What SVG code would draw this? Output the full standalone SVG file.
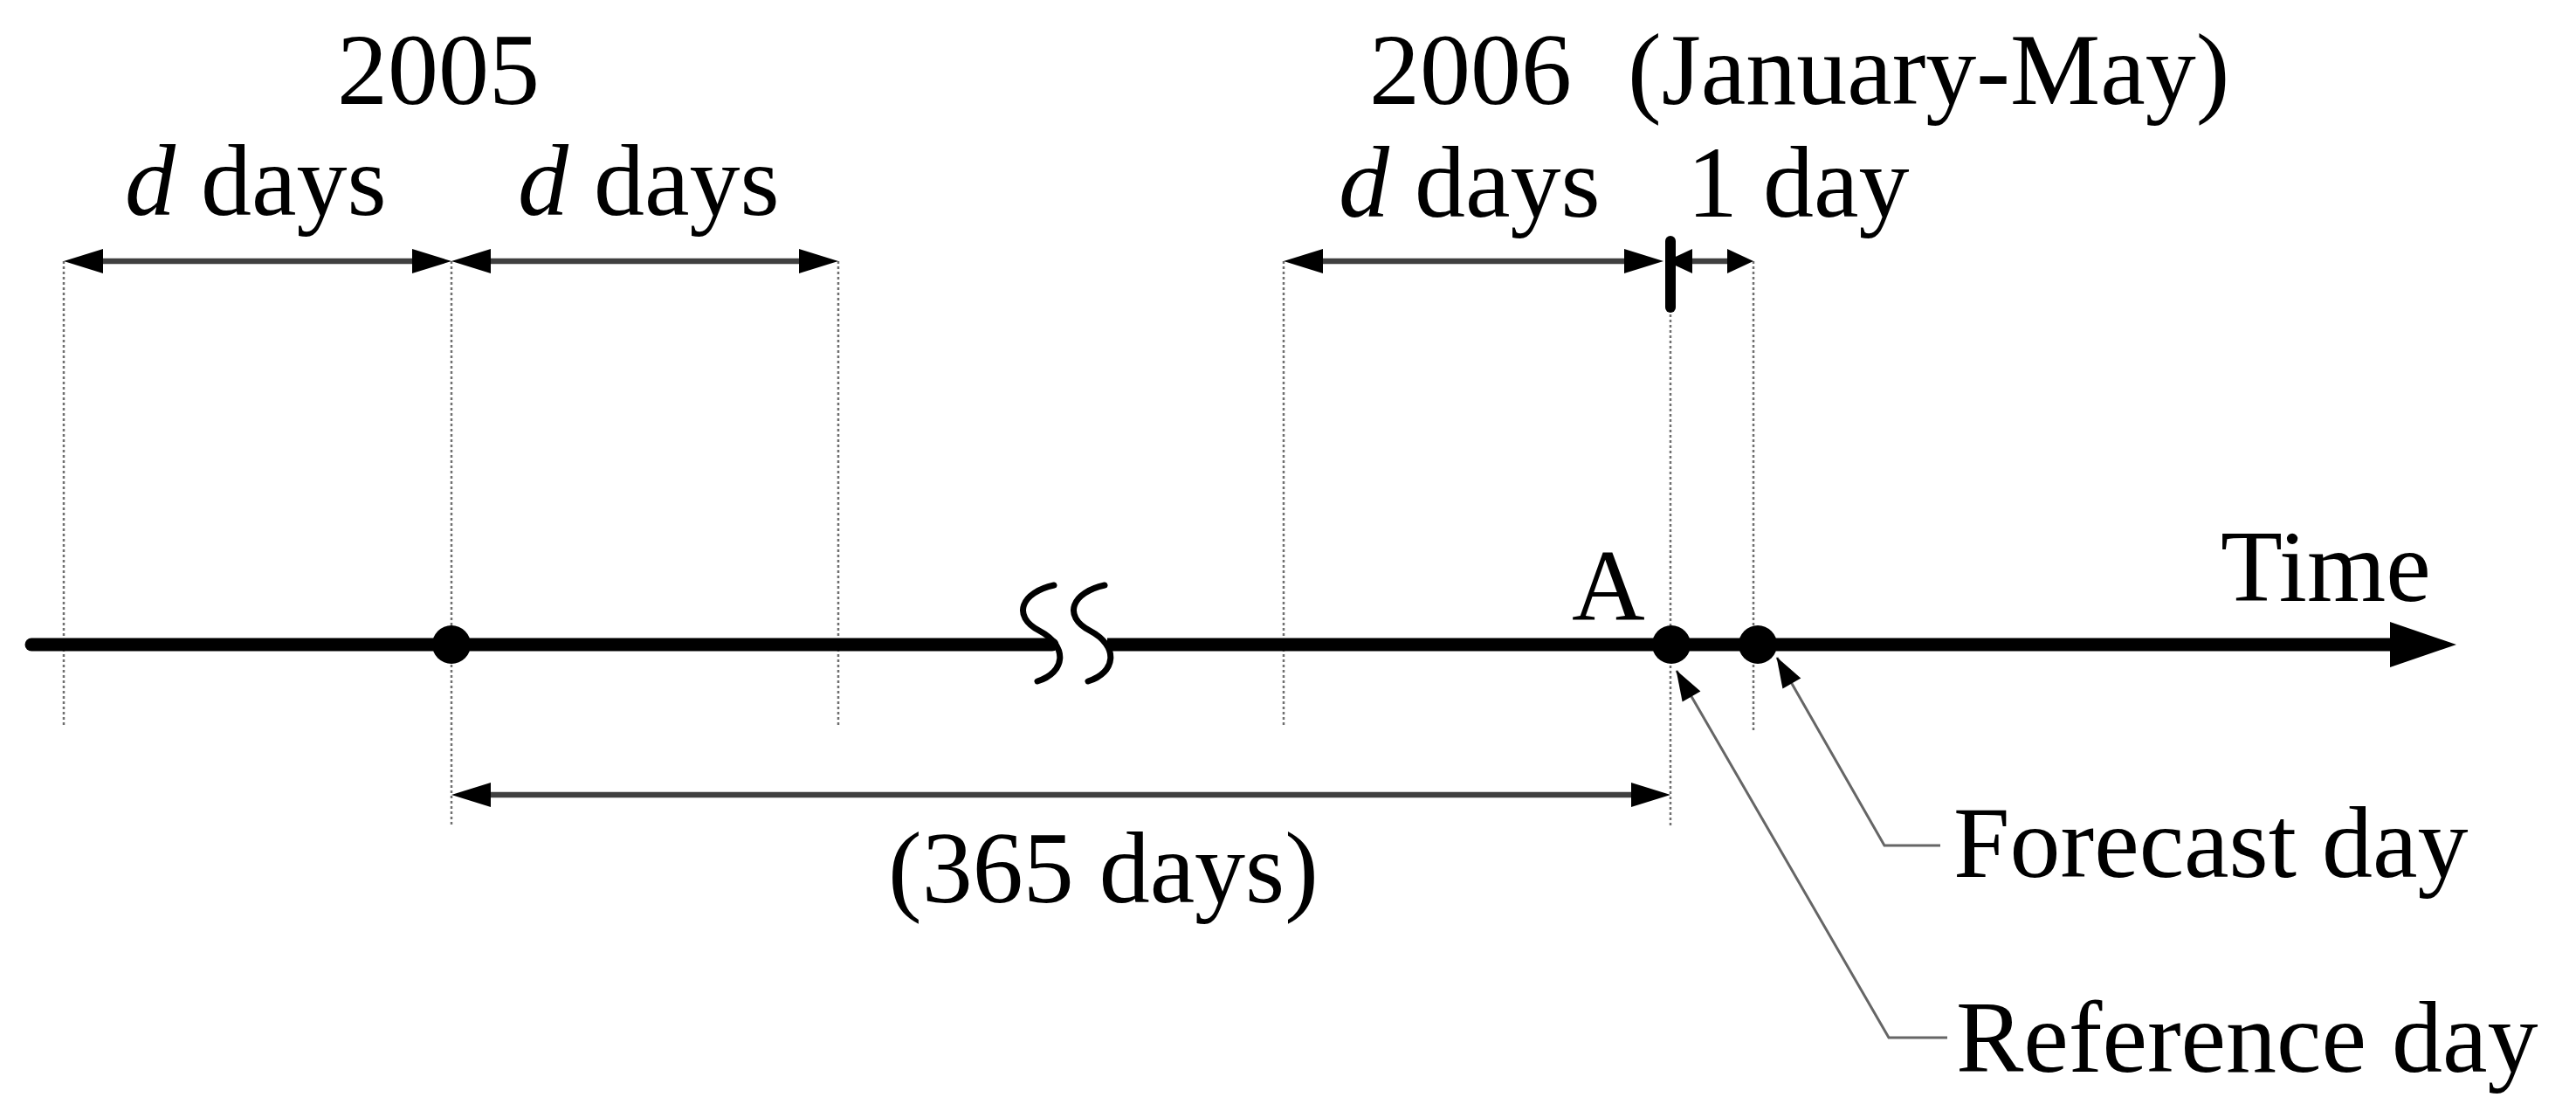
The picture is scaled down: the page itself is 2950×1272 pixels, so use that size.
<svg xmlns="http://www.w3.org/2000/svg" width="2950" height="1272" viewBox="0 0 2950 1272">
<style>
text{font-family:"Liberation Serif","Times New Roman",serif;font-size:116px;fill:#000}
.it{font-style:italic}
.guide{stroke:#707070;stroke-width:2.5;stroke-dasharray:3 3;fill:none}
.dim{stroke:#404040;stroke-width:6.5;fill:none}
.leader{stroke:#666;stroke-width:3;fill:none}
.axis{stroke:#000;stroke-width:15;fill:none}
.brk{stroke:#000;stroke-width:7;fill:none;stroke-linecap:round}
.dot{fill:#000}
</style>
<defs>
<marker id="ah" markerUnits="userSpaceOnUse" viewBox="0 -15 46 30" markerWidth="46" markerHeight="30" refX="25" refY="0" orient="auto-start-reverse" overflow="visible">
<path d="M0,-14 L45,0 L0,14 z" fill="#000"/>
</marker>
<marker id="ahs" markerUnits="userSpaceOnUse" viewBox="0 -15 31 30" markerWidth="31" markerHeight="30" refX="15" refY="0" orient="auto-start-reverse" overflow="visible">
<path d="M0,-14 L30,0 L0,14 z" fill="#000"/>
</marker>
<marker id="ahl" markerUnits="userSpaceOnUse" viewBox="0 -13 36 26" markerWidth="36" markerHeight="26" refX="34" refY="0" orient="auto" overflow="visible">
<path d="M0,-12 L35,0 L0,12 z" fill="#000"/>
</marker>
</defs>

<g id="guides">
<line class="guide" x1="73" y1="299" x2="73" y2="830"/>
<line class="guide" x1="517" y1="299" x2="517" y2="947"/>
<line class="guide" x1="960" y1="299" x2="960" y2="830"/>
<line class="guide" x1="1470" y1="299" x2="1470" y2="830"/>
<line class="guide" x1="1913" y1="300" x2="1913" y2="947"/>
<line class="guide" x1="2008" y1="299" x2="2008" y2="836"/>
</g>

<g id="connectors">
<line class="dim" x1="93" y1="299" x2="497" y2="299" marker-start="url(#ah)" marker-end="url(#ah)"/>
<line class="dim" x1="537" y1="299" x2="940" y2="299" marker-start="url(#ah)" marker-end="url(#ah)"/>
<line class="dim" x1="1490" y1="299" x2="1885" y2="299" marker-start="url(#ah)" marker-end="url(#ah)"/>
<line class="dim" x1="1923" y1="299" x2="1993" y2="299" marker-start="url(#ahs)" marker-end="url(#ahs)"/>
<line class="dim" x1="537" y1="910" x2="1893" y2="910" marker-start="url(#ah)" marker-end="url(#ah)"/>
<polyline class="leader" points="2222,968 2158,968 2035,753" marker-end="url(#ahl)"/>
<polyline class="leader" points="2230,1188 2163,1188 1920,768" marker-end="url(#ahl)"/>
</g>

<g id="timeline">
<line class="axis" x1="36" y1="738" x2="1205" y2="738" stroke-linecap="round"/>
<line class="axis" x1="1268" y1="738" x2="2745" y2="738"/>
<polygon points="2737,712 2813,738 2737,764" fill="#000"/>
<path class="brk" d="M1207,670 C1170,678 1158,705 1190,722 C1224,740 1220,770 1188,780"/>
<path class="brk" d="M1265,670 C1228,678 1216,705 1248,722 C1282,740 1278,770 1246,780"/>
<line x1="1913" y1="276" x2="1913" y2="352" stroke="#000" stroke-width="12" stroke-linecap="round"/>
</g>

<g id="day-2005">
<circle class="dot" cx="517" cy="738" r="22"/>
</g>
<g id="reference-day-A">
<circle class="dot" cx="1914" cy="738" r="22"/>
<text x="1800" y="710">A</text>
</g>
<g id="forecast-day-point">
<circle class="dot" cx="2013" cy="738" r="22"/>
</g>

<g id="label-2005"><text x="386" y="119">2005</text></g>
<g id="label-2006"><text y="119"><tspan x="1568">2006</tspan><tspan x="1864">(January-May)</tspan></text></g>
<g id="label-d1"><text x="143" y="246"><tspan class="it">d</tspan> days</text></g>
<g id="label-d2"><text x="593" y="246"><tspan class="it">d</tspan> days</text></g>
<g id="label-d3"><text x="1533" y="248"><tspan class="it">d</tspan> days</text></g>
<g id="label-1day"><text x="1932" y="248">1 day</text></g>
<g id="label-365"><text x="1017" y="1033">(365 days)</text></g>
<g id="label-time"><text x="2543" y="688">Time</text></g>
<g id="label-forecast"><text x="2237" y="1004">Forecast day</text></g>
<g id="label-reference"><text x="2240" y="1227">Reference day</text></g>
</svg>
